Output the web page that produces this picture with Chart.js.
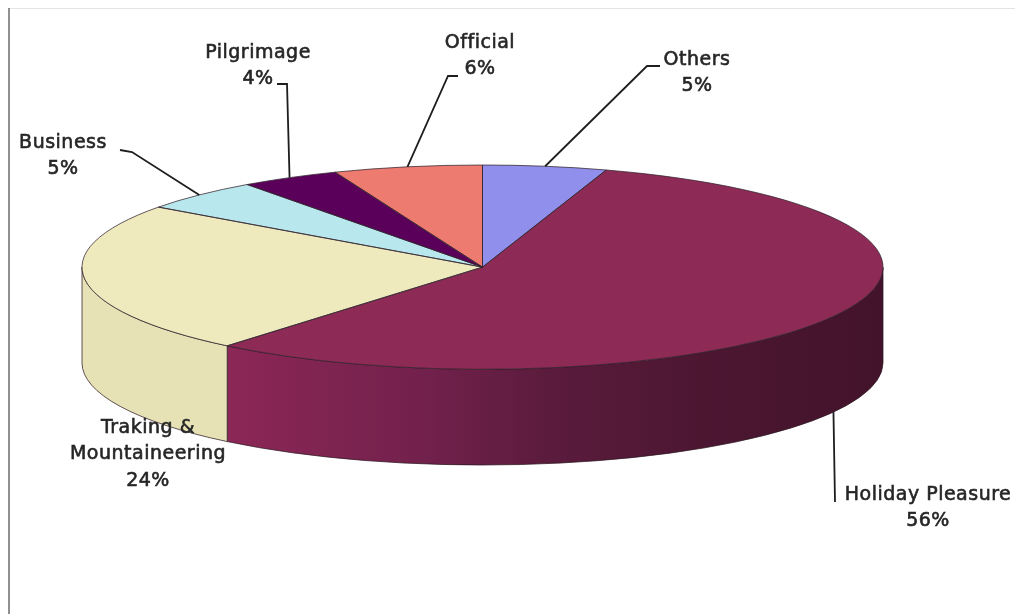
<!DOCTYPE html>
<html>
<head>
<meta charset="utf-8">
<title>Purpose of Visit</title>
<script src="https://cdn.jsdelivr.net/npm/chart.js@4.4.1/dist/chart.umd.min.js"></script>
<style>
  html, body { margin: 0; padding: 0; background: #ffffff; }
  canvas { display: block; }
</style>
</head>
<body>
<canvas id="visitChart" width="1015" height="614"></canvas>
<script>
// Share of visitors by purpose of visit (percent), clockwise from 12 o'clock
const categories = ['Others', 'Holiday Pleasure', 'Traking & Mountaineering', 'Business', 'Pilgrimage', 'Official'];
const shares = [5, 56, 24, 5, 4, 6];

// Top-face colours and the colours of the visible outer walls
const topColors = ['#9090EC', '#8E2A56', '#EEEABE', '#B8E8EE', '#5A005A', '#EE7B70'];
const wallColors = ['#7070C8', null, '#E6E2B6', '#98C8CE', '#400040', '#C86058'];
// Holiday wall shades from lit (left) to shadowed (right)
const wallShade = [[0, '#8C2757'], [0.3, '#72214C'], [0.5, '#5A1B3C'], [0.75, '#4B1631'], [1, '#43132B']];

// Label placement: centre of the first text line and the leader path
const labelLayout = [
  { cx: 697, cy: 60,  leader: [[647, 66], [660, 66]] },
  { cx: 928, cy: 495, leader: [[835, 502]], fromBase: true },
  { cx: 148, cy: 428, leader: null },
  { cx: 63,  cy: 143, leader: [[132, 152], [120, 150]] },
  { cx: 258, cy: 53,  leader: [[287, 84], [277, 84]] },
  { cx: 480, cy: 43,  leader: [[448, 76], [458, 76]] }
];

const TILT = 0.255;        // vertical squash of the pie top
const LINE_GAP = 26.5;     // distance between label lines
const WRAP = 16;           // max characters per label line

function ellipseOf(chart) {
  const a = chart.chartArea;
  const rx = (a.right - a.left) / 2;
  const ry = rx * TILT;
  return { cx: (a.left + a.right) / 2, cy: a.top + ry, rx, ry, depth: (a.bottom - a.top) - 2 * ry };
}

function wrapLabel(text) {
  const lines = [];
  let cur = '';
  text.split(' ').forEach(w => {
    const next = cur ? cur + ' ' + w : w;
    if (next.length > WRAP && cur) { lines.push(cur); cur = w; } else { cur = next; }
  });
  if (cur) lines.push(cur);
  return lines;
}

// Thin frame on the left and top edges
const framePlugin = {
  id: 'frame',
  beforeDraw(chart) {
    const ctx = chart.ctx;
    ctx.save();
    ctx.fillStyle = '#e4e4e4';
    ctx.fillRect(10, 8, chart.width - 10, 1);
    ctx.fillStyle = '#909090';
    ctx.fillRect(8, 8, 2, chart.height - 8);
    ctx.restore();
  }
};

// Draws the pie as a tilted disc: walls first, then the library's arcs squashed into an ellipse
const tiltPlugin = {
  id: 'tilt',
  beforeDatasetsDraw(chart) {
    const ctx = chart.ctx;
    const e = ellipseOf(chart);
    const els = chart.getDatasetMeta(0).data;
    els.forEach((el, i) => {
      const a1 = Math.max(el.startAngle, 0);
      const a2 = Math.min(el.endAngle, Math.PI);
      if (a2 <= a1) return;
      ctx.save();
      ctx.beginPath();
      ctx.ellipse(e.cx, e.cy, e.rx, e.ry, 0, a1, a2);
      ctx.ellipse(e.cx, e.cy + e.depth, e.rx, e.ry, 0, a2, a1, true);
      ctx.closePath();
      if (wallColors[i]) {
        ctx.fillStyle = wallColors[i];
      } else {
        const xa = e.cx + e.rx * Math.cos(a2);
        const xb = e.cx + e.rx * Math.cos(a1);
        const g = ctx.createLinearGradient(Math.min(xa, xb), 0, Math.max(xa, xb), 0);
        wallShade.forEach(s => g.addColorStop(s[0], s[1]));
        ctx.fillStyle = g;
      }
      ctx.fill();
      ctx.lineWidth = 1;
      ctx.strokeStyle = 'rgba(45,25,35,0.75)';
      ctx.stroke();
      ctx.restore();
    });
    const el = els[0];
    ctx.save();
    ctx.translate(e.cx, e.cy);
    ctx.scale(e.rx / el.outerRadius, e.ry / el.outerRadius);
    ctx.translate(-el.x, -el.y);
  },
  afterDatasetsDraw(chart) {
    const ctx = chart.ctx;
    ctx.restore();
    const e = ellipseOf(chart);
    const els = chart.getDatasetMeta(0).data;
    ctx.save();
    ctx.lineWidth = 1;
    ctx.strokeStyle = 'rgba(50,35,45,0.75)';
    els.forEach(el => {
      ctx.beginPath();
      ctx.moveTo(e.cx, e.cy);
      ctx.ellipse(e.cx, e.cy, e.rx, e.ry, 0, el.startAngle, el.endAngle);
      ctx.closePath();
      ctx.stroke();
    });
    ctx.restore();
  }
};

// Category names with percentages and leader lines
const labelPlugin = {
  id: 'sliceLabels',
  afterDraw(chart) {
    const ctx = chart.ctx;
    const e = ellipseOf(chart);
    const els = chart.getDatasetMeta(0).data;
    ctx.save();
    els.forEach((el, i) => {
      const lay = labelLayout[i];
      if (lay.leader) {
        const mid = (el.startAngle + el.endAngle) / 2;
        const px = e.cx + e.rx * Math.cos(mid);
        let py = e.cy + e.ry * Math.sin(mid);
        if (lay.fromBase) py += e.depth;
        ctx.beginPath();
        ctx.moveTo(px, py);
        lay.leader.forEach(p => ctx.lineTo(p[0], p[1]));
        ctx.lineWidth = 1.8;
        ctx.strokeStyle = '#1e1e1e';
        ctx.stroke();
      }
      const lines = wrapLabel(categories[i]).concat([shares[i] + '%']);
      ctx.font = '19px "DejaVu Sans", Verdana, sans-serif';
      ctx.letterSpacing = '0.5px';
      ctx.fillStyle = '#262626';
      ctx.strokeStyle = '#262626';
      ctx.lineWidth = 0.6;
      ctx.textAlign = 'center';
      ctx.textBaseline = 'middle';
      lines.forEach((t, k) => {
        ctx.fillText(t, lay.cx, lay.cy + k * LINE_GAP);
        ctx.strokeText(t, lay.cx, lay.cy + k * LINE_GAP);
      });
    });
    ctx.restore();
  }
};

new Chart(document.getElementById('visitChart'), {
  type: 'pie',
  data: {
    labels: categories,
    datasets: [{
      data: shares,
      backgroundColor: topColors,
      borderWidth: 0,
      clip: false
    }]
  },
  options: {
    responsive: false,
    animation: false,
    events: [],
    layout: { padding: { left: 82, right: 132, top: 165, bottom: 149 } },
    plugins: {
      legend: { display: false },
      tooltip: { enabled: false }
    }
  },
  plugins: [framePlugin, tiltPlugin, labelPlugin]
});
</script>
</body>
</html>
